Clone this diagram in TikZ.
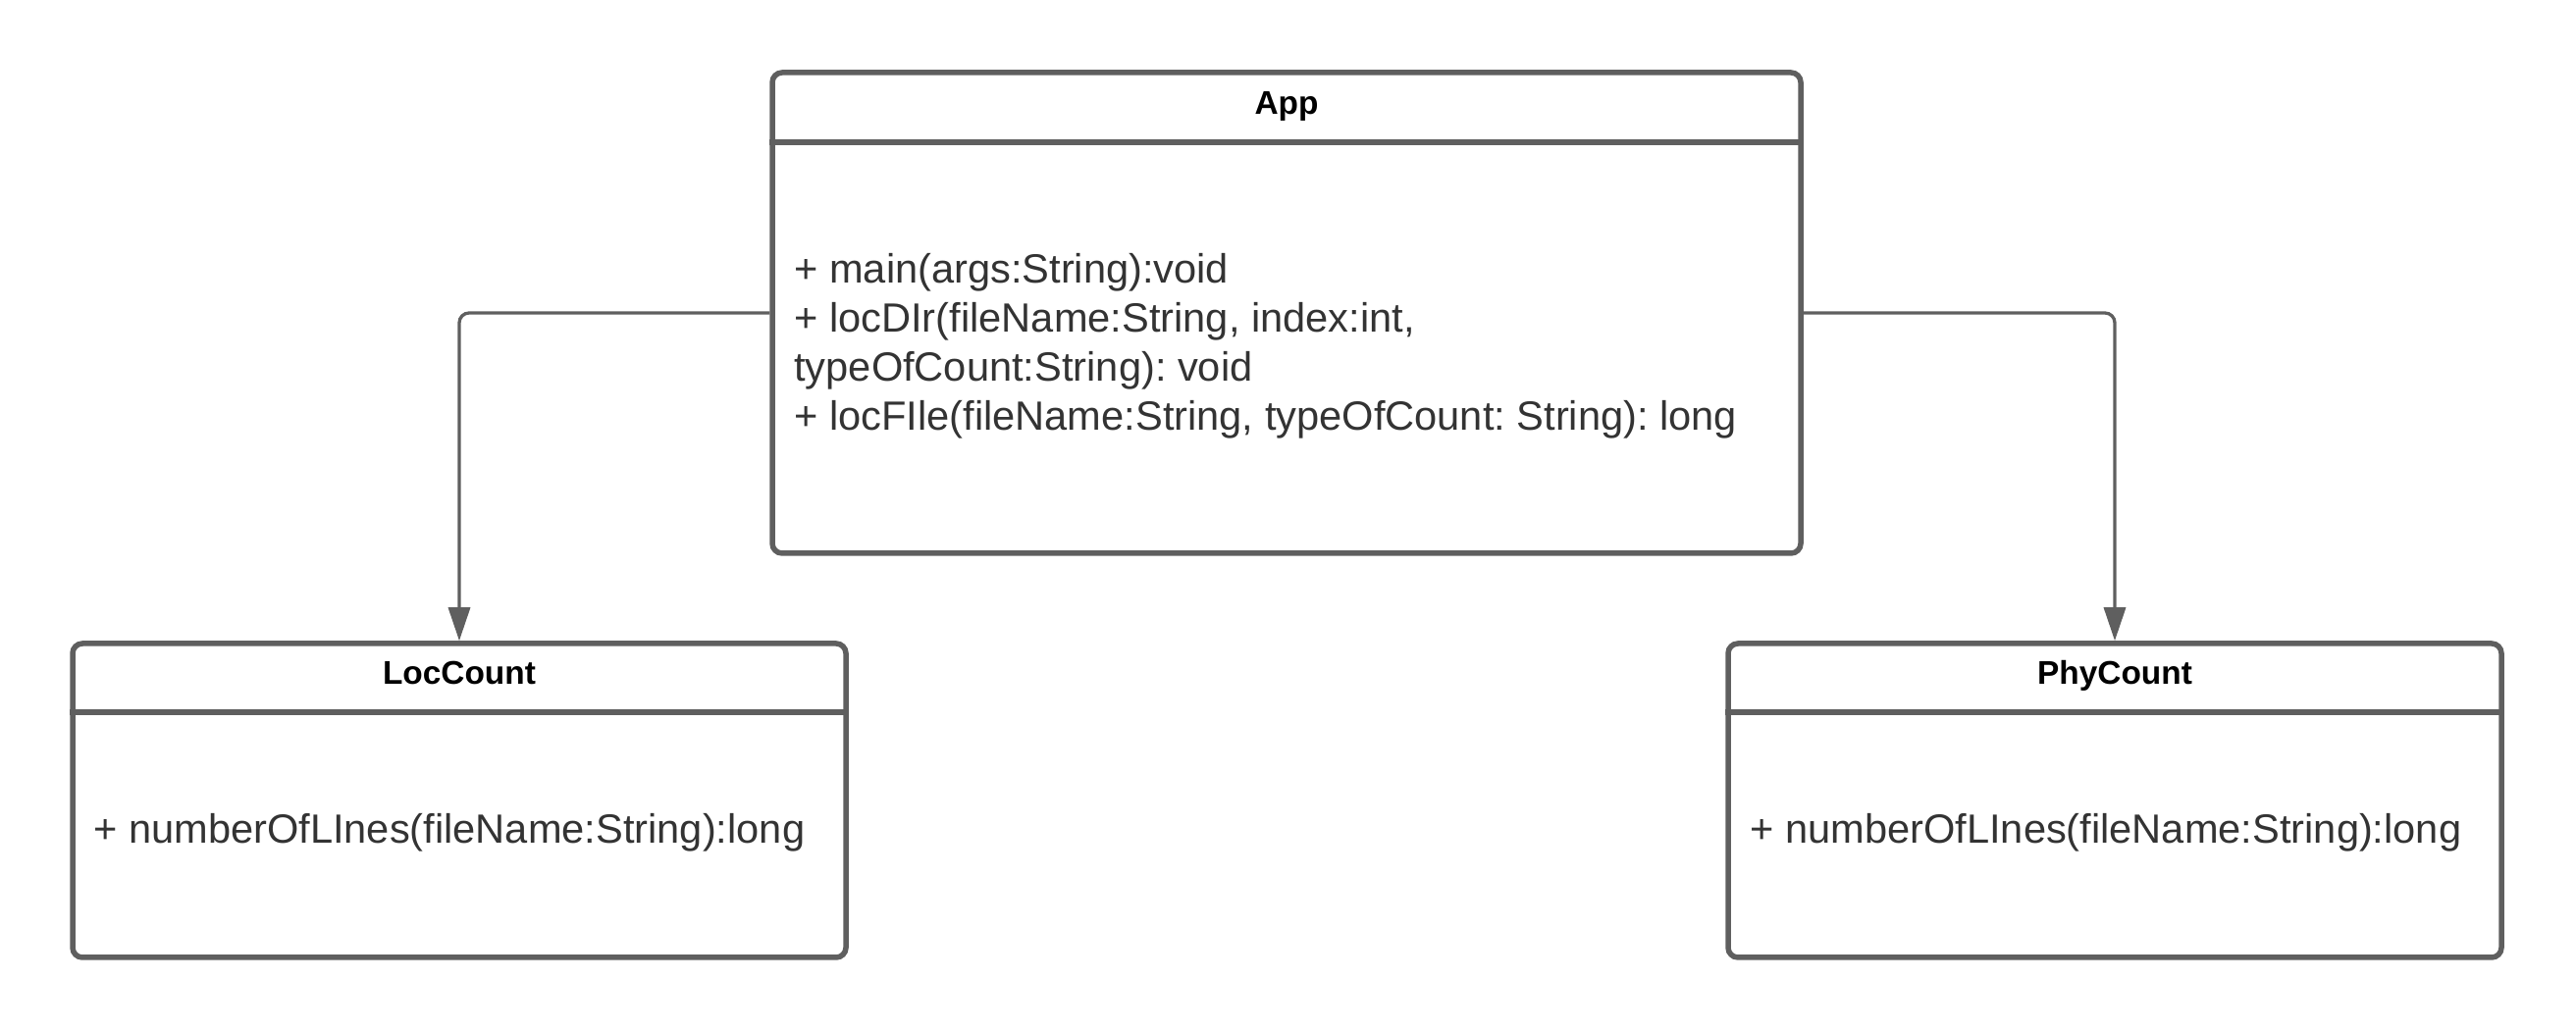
\documentclass[tikz,border=0pt]{standalone}
\usepackage{fontspec}
\setmainfont{Liberation Sans}
\usetikzlibrary{arrows.meta}
\frenchspacing
\definecolor{umlline}{HTML}{5F5F5F}
\definecolor{umltext}{HTML}{333333}
\tikzset{
  classbox/.style={draw=umlline, line width=2.75pt, rounded corners=5pt, fill=white, inner sep=0pt},
  sepline/.style={draw=umlline, line width=2.75pt},
  titletext/.style={font=\bfseries\fontsize{16.7}{20}\selectfont, text=black, anchor=base, inner sep=0pt},
  membertext/.style={font=\fontsize{20.8}{25}\selectfont, text=umltext, anchor=base west, inner sep=0pt},
  conn/.style={draw=umlline, line width=1.65pt, rounded corners=5pt, -{Triangle[length=17pt,width=11pt]}}
}
\begin{document}
\begin{tikzpicture}[x=0.5pt,y=-0.5pt]
\useasboundingbox (0,0) rectangle (2625,1052);
% class boxes
\node[classbox, minimum width=524pt, minimum height=245pt] (app) at (1311,319) {};
\node[classbox, minimum width=394pt, minimum height=160pt] (loc) at (468,816) {};
\node[classbox, minimum width=394pt, minimum height=160pt] (phy) at (2155,816) {};
% header separators
\draw[sepline] ([yshift=-36.9pt]app.north west) -- ([yshift=-36.9pt]app.north east);
\draw[sepline] ([yshift=-36.4pt]loc.north west) -- ([yshift=-36.4pt]loc.north east);
\draw[sepline] ([yshift=-36.4pt]phy.north west) -- ([yshift=-36.4pt]phy.north east);
% titles
\node[titletext] (apptitle) at (1311,117) {App};
\node[titletext] (loctitle) at (468,698) {LocCount};
\node[titletext] (phytitle) at (2155,698) {PhyCount};
% members
\node[membertext] (m1) at (809,289) {+ main(args:String):void};
\node[membertext] (m2) at (809,339) {+ locDIr(fileName:String, index:int,};
\node[membertext] (m3) at (809,389) {typeOfCount:String): void};
\node[membertext] (m4) at (809,439) {+ locFIle(fileName:String, typeOfCount: String): long};
\node[membertext] (lm1) at (95,860) {+ numberOfLInes(fileName:String):long};
\node[membertext] (pm1) at (1783,860) {+ numberOfLInes(fileName:String):long};
% connectors
\draw[conn] (app.west) -| (loc.north);
\draw[conn] (app.east) -| (phy.north);
\end{tikzpicture}
\end{document}
